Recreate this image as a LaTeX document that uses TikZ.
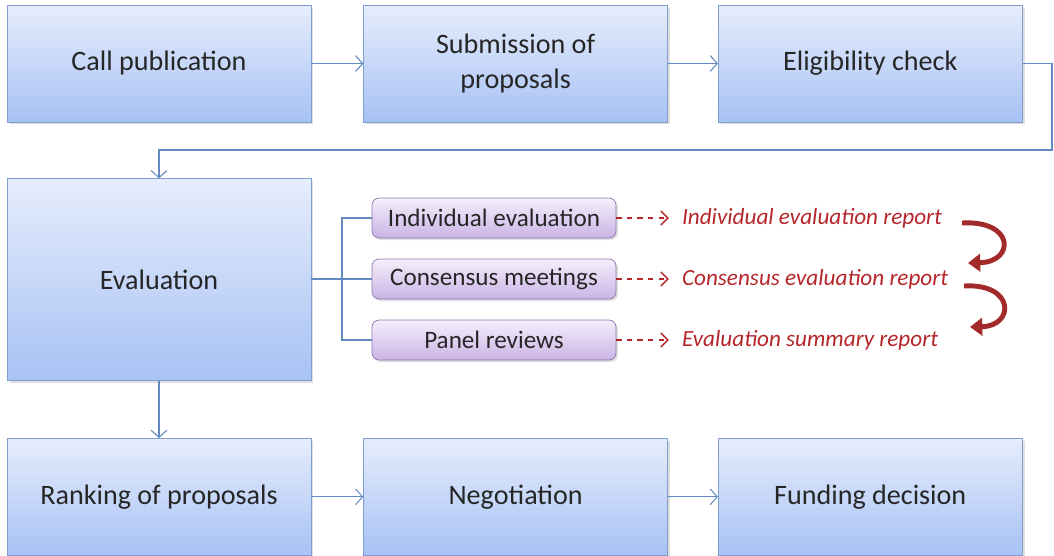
\documentclass[tikz,border=0pt]{standalone}
\usepackage{fontspec}
\setmainfont{Carlito}
\usetikzlibrary{positioning,arrows.meta,shadows}

\definecolor{boxline}{HTML}{7F9DCF}
\definecolor{boxtop}{HTML}{E6EDFC}
\definecolor{boxbot}{HTML}{A7C2F4}
\definecolor{subline}{HTML}{8D76B2}
\definecolor{subtop}{HTML}{F5EFFB}
\definecolor{subbot}{HTML}{CAB3E5}
\definecolor{linkcol}{HTML}{6289C0}
\definecolor{reportred}{HTML}{B5262B}
\definecolor{bendred}{HTML}{A32A2A}

\tikzset{
  stage/.style={draw=boxline, top color=boxtop, bottom color=boxbot,
    minimum width=6.08cm, minimum height=2.34cm, align=center,
    font=\fontsize{16}{19.5}\selectfont, text=black!85,
    drop shadow={opacity=0.25, shadow xshift=0.05cm, shadow yshift=-0.05cm}},
  substage/.style={draw=subline, rounded corners=4pt, top color=subtop, bottom color=subbot,
    minimum width=4.88cm, minimum height=0.8cm,
    font=\fontsize{14.3}{17}\selectfont, text=black!85,
    drop shadow={opacity=0.25, shadow xshift=0.04cm, shadow yshift=-0.04cm}},
  report/.style={text=reportred, font=\fontsize{13.2}{16}\selectfont\itshape},
  link/.style={draw=linkcol, semithick, -{Straight Barb[length=4pt,width=9pt]}},
  fork/.style={draw=linkcol, semithick},
  toreport/.style={draw=reportred, dashed, line width=0.8pt, shorten >=0.14cm, -{Straight Barb[length=4pt,width=8pt]}},
  bendarrow/.style={draw=bendred, line width=2.8pt, -{Triangle[length=7pt,width=10pt]}}
}

\begin{document}
\begin{tikzpicture}[x=0.02cm, y=-0.02cm]
  \useasboundingbox (0,0) rectangle (1054,555);

  % main stages
  \node[stage] (call) at (159,63.5) {Call publication};
  \node[stage, right=1.04cm of call] (submit) {Submission of\\proposals};
  \node[stage, right=1.0cm of submit] (elig) {Eligibility check};
  \node[stage, minimum height=4.04cm, below=1.12cm of call] (eval) {Evaluation};
  \node[stage, below=1.14cm of eval] (rank) {Ranking of proposals};
  \node[stage, right=1.04cm of rank] (nego) {Negotiation};
  \node[stage, right=1.0cm of nego] (fund) {Funding decision};

  % evaluation steps
  \node[substage] (indiv) at (494,218) {Individual evaluation};
  \node[substage] (cons) at (494,279) {Consensus meetings};
  \node[substage] (panel) at (494,340) {Panel reviews};

  \node[report, anchor=west, right=1.19cm of indiv] (indivrep) {Individual evaluation report};
  \node[report, anchor=west, right=1.19cm of cons] (consrep) {Consensus evaluation report};
  \node[report, anchor=west, right=1.19cm of panel] (panelrep) {Evaluation summary report};

  % connectors
  \draw[link] (call) -- (submit);
  \draw[link] (submit) -- (elig);
  \coordinate (loop) at (1052,150);
  \draw[link] (elig.east) -| (loop) -| (eval.north);
  \draw[link] (eval) -- (rank);
  \draw[link] (rank) -- (nego);
  \draw[link] (nego) -- (fund);

  \coordinate (split) at (342,279);
  \draw[fork] (cons.west -| eval.east) -- (cons.west);
  \draw[fork] (indiv.west) -| (split) |- (panel.west);

  \draw[toreport] (indiv.east) -- (indivrep.west);
  \draw[toreport] (cons.east) -- (consrep.west);
  \draw[toreport] (panel.east) -- (panelrep.west);

  % report sequence
  \coordinate (b1s) at (962,223);
  \coordinate (b1e) at (968,263);
  \coordinate (b2s) at (964,286);
  \coordinate (b2e) at (970,327);
  \draw[bendarrow] (b1s) .. controls (1015,220) and (1015,262) .. (b1e);
  \draw[bendarrow] (b2s) .. controls (1015,283) and (1015,326) .. (b2e);
\end{tikzpicture}
\end{document}
